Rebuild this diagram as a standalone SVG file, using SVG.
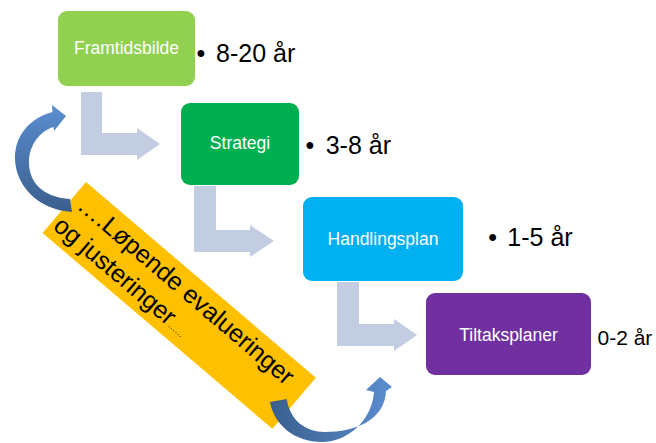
<svg xmlns="http://www.w3.org/2000/svg" width="656" height="443" viewBox="0 0 656 443">
<defs>
<style>
.node text{font-family:"Liberation Sans",Arial,sans-serif;font-size:17.5px;fill:#ffffff;text-anchor:middle}
.lbl{font-family:"Liberation Sans",Arial,sans-serif;fill:#000000}
.bent{fill:#C3CDE1}
</style>
<linearGradient id="gl" x1="0" y1="0" x2="0" y2="1">
<stop offset="0" stop-color="#5B8DCF"/>
<stop offset="1" stop-color="#3A5F8E"/>
</linearGradient>
<linearGradient id="gr" x1="0" y1="0" x2="1" y2="0">
<stop offset="0" stop-color="#3A5F8E"/>
<stop offset="1" stop-color="#5B8DCF"/>
</linearGradient>
</defs>
<rect width="656" height="443" fill="#ffffff"/>

<g id="connectors">
<polygon class="bent" points="81,92 102,92 102,133 137,133 137,128 160,144 137,160 137,155 81,155"/>
<polygon class="bent" points="194,186 216,186 216,230 250,230 250,225 274,241 250,257 250,252 194,252"/>
<polygon class="bent" points="337,282 359,282 359,324 394,324 394,319 417,335 394,351 394,346 337,346"/>
</g>

<g id="node-framtidsbilde" class="node">
<rect x="58" y="11" width="137" height="75" rx="9" fill="#92D050"/>
<text x="126.5" y="54.3">Framtidsbilde</text>
</g>
<g id="node-strategi" class="node">
<rect x="181" y="103" width="118" height="82" rx="9" fill="#00B050"/>
<text x="240" y="149.3">Strategi</text>
</g>
<g id="node-handlingsplan" class="node">
<rect x="303" y="197" width="160" height="84" rx="9" fill="#00B0F0"/>
<text x="383" y="245">Handlingsplan</text>
</g>
<g id="node-tiltaksplaner" class="node">
<rect x="426" y="293" width="165" height="82" rx="9" fill="#7030A0"/>
<text x="508.5" y="340.7">Tiltaksplaner</text>
</g>

<g id="labels" class="lbl">
<text x="196.6" y="61.7" font-size="25">•</text>
<text x="216" y="61.7" font-size="25">8-20 år</text>
<text x="305.6" y="154" font-size="25">•</text>
<text x="325.7" y="154" font-size="25">3-8 år</text>
<text x="488.3" y="245.7" font-size="25">•</text>
<text x="507.3" y="245.7" font-size="25">1-5 år</text>
<text x="597.5" y="345" font-size="21">0-2 år</text>
</g>

<g id="banner" transform="translate(86,182) rotate(40.43)">
<rect x="0" y="0" width="302" height="67" fill="#FFC000"/>
<text class="lbl" x="9" y="26" font-size="25">….Løpende evalueringer</text>
<text class="lbl" x="4" y="57" font-size="25">og justeringer<tspan font-size="9">……</tspan></text>
</g>

<g id="loop-arrows">
<path d="M72,212 L70,199 C42,197 29,182 29,162 C29,145 40,131 53.6,127 L54,131 L66,116 L52,105 L52.5,112 C30,118 15,135 15,158 C15,185 38,210 72,212 Z" fill="url(#gl)"/>
<path d="M270,402 L286.7,399 C290,420 305,432 325,432 C355,432 385,420 386,391 L392,387 L380,377 L366,390 L374,392 C372,420 348,442 322,442 C295,442 274,425 270,402 Z" fill="url(#gr)"/>
</g>
</svg>
